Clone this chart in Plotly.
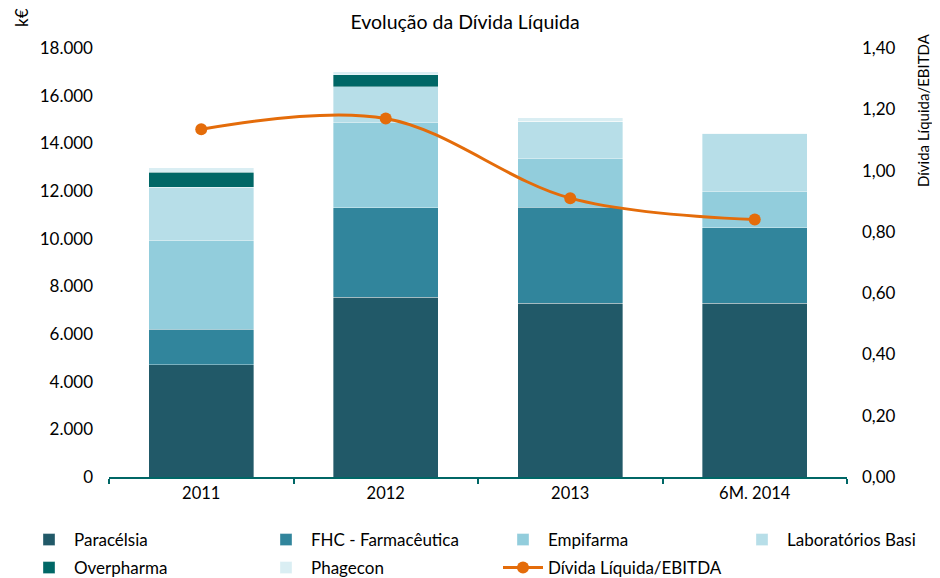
import plotly.graph_objects as go

categories = ["2011", "2012", "2013", "6M. 2014"]
paracelsia = [4700, 7550, 7290, 7290]
fhc = [1500, 3750, 4030, 3160]
empifarma = [3730, 3580, 2030, 1520]
lab_basi = [2220, 1500, 1580, 2450]
overpharma = [640, 490, 0, 0]
phagecon = [180, 125, 140, 0]
ratio = [1.135, 1.17, 0.91, 0.84]

series = [
    ("Paracélsia", paracelsia, "#215968"),
    ("FHC - Farmacêutica", fhc, "#31859C"),
    ("Empifarma", empifarma, "#92CDDC"),
    ("Laboratórios Basi", lab_basi, "#B7DEE8"),
    ("Overpharma", overpharma, "#006766"),
    ("Phagecon", phagecon, "#DAEEF3"),
]

FONT = "Lato"
OFF = 8  # page body margin in the viewer
W, H = 940 - OFF, 578 - OFF
L, T = 109 - OFF, 48 - OFF
PW, PH = 738, 429
R, B = W - L - PW, H - T - PH


def px_x(p):
    return (p - OFF - L) / PW


def px_y(p):
    return (T + PH - (p - OFF)) / PH


# legend slots (left pixel, centre pixel) per trace, in viewer coordinates
slots = [(24, 540), (261, 540), (498, 540), (737, 540), (24, 568), (261, 568), (498, 568)]

fig = go.Figure()
for i, (name, vals, col) in enumerate(series):
    fig.add_trace(go.Bar(
        x=categories, y=vals, name=name,
        marker=dict(color=col, line=dict(color="rgba(255,255,255,0.6)", width=0.6)),
        width=0.57, yaxis="y", legend="legend" if i == 0 else f"legend{i+1}",
    ))
fig.add_trace(go.Scatter(
    x=categories, y=ratio, name="Dívida Líquida/EBITDA", yaxis="y2",
    mode="lines+markers", line=dict(color="#E46C0A", width=3, shape="spline", smoothing=1.0),
    marker=dict(color="#E46C0A", size=12), legend="legend7",
))

legends = {}
for i, (lx, ly) in enumerate(slots):
    key = "legend" if i == 0 else f"legend{i+1}"
    legends[key] = dict(x=px_x(lx), xanchor="left", y=px_y(ly), yanchor="middle",
                        orientation="h", font=dict(family=FONT, size=17, color="#000000"),
                        bgcolor="rgba(0,0,0,0)", itemwidth=40)

fig.update_layout(
    width=W, height=H,
    margin=dict(l=L, r=R, t=T, b=B, autoexpand=False),
    barmode="stack",
    separators=",.",
    paper_bgcolor="white", plot_bgcolor="white",
    font=dict(family=FONT, size=17, color="#000000"),
    title=dict(text="Evolução da Dívida Líquida", x=(465 - OFF) / W, xanchor="center",
               y=1 - (22 - OFF) / H, yanchor="middle",
               font=dict(family=FONT, size=19.5, color="#000000")),
    xaxis=dict(type="category", showgrid=False, showline=True, linecolor="#006766", linewidth=2,
               ticks="outside", tickson="boundaries", ticklen=5, tickcolor="#006766", tickwidth=2,
               tickfont=dict(size=16.5), range=[-0.5, 3.5]),
    yaxis=dict(range=[0, 18000], dtick=2000, tickformat=",d", showgrid=False, showline=False,
               zeroline=False, tickfont=dict(size=17), ticklabelstandoff=15),
    yaxis2=dict(range=[0, 1.4], dtick=0.2, tickformat=".2f", overlaying="y", side="right",
                showgrid=False, showline=False, zeroline=False, tickfont=dict(size=17), ticklabelstandoff=14),
    showlegend=True,
    annotations=[
        dict(text="k€", xref="paper", yref="paper", x=px_x(22), y=px_y(18), textangle=-90,
             showarrow=False, font=dict(size=17), xanchor="center", yanchor="middle"),
        dict(text="Dívida Líquida/EBITDA", x=px_x(923), y=px_y(110), xref="paper", yref="paper",
             textangle=-90, showarrow=False, font=dict(size=15), xanchor="center", yanchor="middle"),
    ],
    **legends,
)
fig.write_html("out.html")
